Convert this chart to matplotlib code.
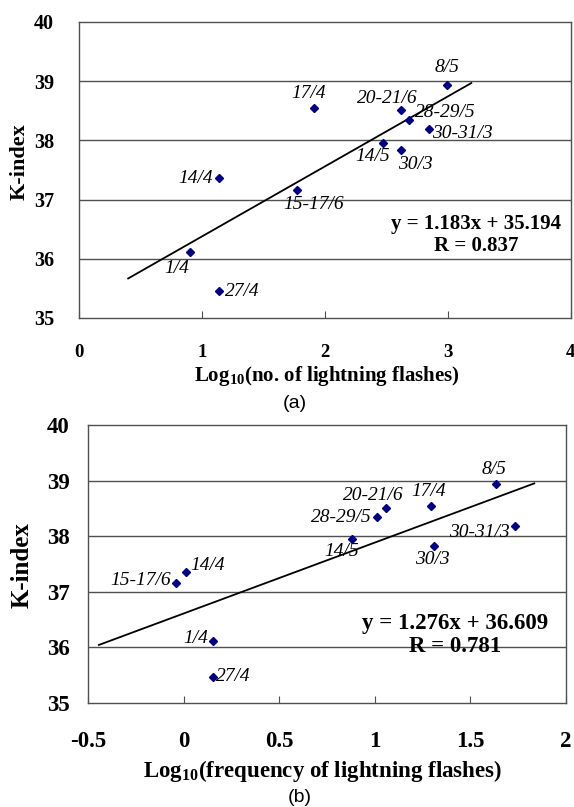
import numpy as np
import matplotlib
matplotlib.use("Agg")
import matplotlib.pyplot as plt

plt.rcParams['font.family'] = ['Liberation Serif', 'DejaVu Serif']
plt.rcParams['mathtext.fontset'] = 'custom'
plt.rcParams['mathtext.rm'] = 'Liberation Serif:bold'
plt.rcParams['mathtext.bf'] = 'Liberation Serif:bold'

# event dates
dates = ['8/5', '17/4', '20-21/6', '28-29/5', '30-31/3', '14/5', '30/3',
         '14/4', '15-17/6', '1/4', '27/4']
k_index = [38.94, 38.55, 38.51, 38.34, 38.19, 37.95, 37.83,
           37.36, 37.16, 36.12, 35.46]

# (a) log10 of number of flashes
log_n = [2.99, 1.91, 2.62, 2.68, 2.85, 2.47, 2.62, 1.14, 1.77, 0.90, 1.14]
fit_a = (1.183, 35.194)
r_a = 0.837
xr_a = (0.40, 3.19)

# (b) log10 of flash frequency
log_f = [1.633, 1.294, 1.059, 1.011, 1.734, 0.881, 1.308, 0.011, -0.039, 0.154, 0.154]
fit_b = (1.276, 36.609)
r_b = 0.781
xr_b = (-0.443, 1.834)

# label offsets in pixels (dx, dy, ha)
offs_a = [(0, 17, 'center'), (-5, 14, 'center'), (-14, 12, 'center'),
          (6, 8, 'left'), (3, -4, 'left'), (-10, -13, 'center'),
          (14, -14, 'center'), (-6, 0, 'right'), (17, -14, 'center'),
          (-13, -17, 'center'), (6, -1, 'left')]
offs_b = [(-2, 14, 'center'), (-2, 14, 'center'), (-13, 12, 'center'),
          (-5, 0, 'right'), (-6, -7, 'right'), (-10, -13, 'center'),
          (-1, -14, 'center'), (5, 6, 'left'), (-5, 2, 'right'),
          (-5, 2, 'right'), (3, 1, 'left')]

fig = plt.figure(figsize=(5.74, 8.07), dpi=100)
ax1 = fig.add_axes([0.1376, 0.606, 0.857, 0.3668])
ax2 = fig.add_axes([0.1533, 0.1289, 0.8328, 0.3445])


def draw(ax, x, offs, fit, r, xr, xlim, xticks, xtl, fs_tick, fs_lab, fs_eq,
         fs_xlab, fs_ylab, xlabel, ylpad, xlpad, eq_xy, xlab_xy, ylab_xy):
    for s in ax.spines.values():
        s.set_color('#505050')
        s.set_linewidth(1.0)
    ax.set_xlim(*xlim)
    ax.set_ylim(35, 40)
    for yv in [36, 37, 38, 39]:
        ax.axhline(yv, color='#505050', lw=1.0, zorder=1)
    xx = np.array(xr)
    ax.plot(xx, fit[0] * xx + fit[1], color='black', lw=1.3, zorder=2)
    ax.plot(x, k_index, linestyle='none', marker='D', markersize=4.5,
            color='#000080', zorder=3)
    for xi, yi, d, (dx, dy, ha) in zip(x, k_index, dates, offs):
        ax.annotate(d, (xi, yi), xytext=(dx, dy), textcoords='offset pixels',
                    ha=ha, va='center', fontsize=fs_lab, style='italic')
    ax.set_xticks(xticks)
    ax.set_xticklabels(xtl)
    ax.set_yticks([35, 36, 37, 38, 39, 40])
    ax.tick_params(axis='y', length=0, pad=ylpad, labelsize=fs_tick[1])
    ax.tick_params(axis='x', direction='in', length=5, color='#505050',
                   pad=xlpad, labelsize=fs_tick[0])
    for t in ax.get_xticklabels() + ax.get_yticklabels():
        t.set_fontweight('bold')
    ax.text(eq_xy[0], eq_xy[1], 'y = %.3fx + %.3f\nR = %.3f' % (fit[0], fit[1], r),
            transform=ax.transAxes, ha='center', va='center',
            fontsize=fs_eq, fontweight='bold', linespacing=1.1)
    ax.set_xlabel(xlabel, fontsize=fs_xlab, fontweight='bold', va='center')
    ax.xaxis.set_label_coords(*xlab_xy)
    ax.set_ylabel('K-index', fontsize=fs_ylab, fontweight='bold', va='center')
    ax.yaxis.set_label_coords(*ylab_xy)


draw(ax1, log_n, offs_a, fit_a, r_a, xr_a, (0, 4), [0, 1, 2, 3, 4],
     ['0', '1', '2', '3', '4'], (13.5, 14.5), 14, 15, 15, 16,
     r'Log$_{\mathbf{10}}$(no. of lightning flashes)', 18, 18.4,
     (0.808, 0.28), (0.504, -0.195), (-0.12, 0.527))
draw(ax2, log_f, offs_b, fit_b, r_b, xr_b, (-0.5, 2), [-0.5, 0, 0.5, 1, 1.5, 2],
     ['-0.5', '0', '0.5', '1', '1.5', '2'], (16.5, 16.5), 14, 16.5, 16.5, 18,
     r'Log$_{\mathbf{10}}$(frequency of lightning flashes)', 13, 20.5,
     (0.768, 0.245), (0.49, -0.245), (-0.138, 0.496))

fig.text(295 / 574, 1 - 404 / 807, '(a)', family='Liberation Sans',
         fontsize=14, ha='center', va='center')
fig.text(300 / 574, 1 - 797 / 807, '(b)', family='Liberation Sans',
         fontsize=14, ha='center', va='center')

fig.savefig('out.png', dpi=100)
